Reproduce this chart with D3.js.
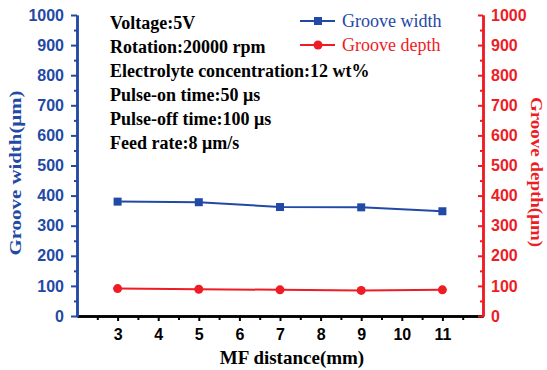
<head>
    <script src="https://d3js.org/d3.v7.min.js"></script>
    <style>
        body { margin: 0; background: #fff; }
        .tick text { font-family: "Liberation Sans", Arial, sans-serif; font-weight: bold; font-size: 16px; }
        .serif { font-family: "Liberation Serif", "Times New Roman", serif; }
    </style>
</head>
<body>
    <svg></svg>
    <script>
        const distance = [3, 5, 7, 9, 11]
        const grooveWidth = [380, 378, 362, 361, 348]
        const grooveDepth = [91, 89, 87, 85, 87]
        const xTicks = [3, 4, 5, 6, 7, 8, 9, 10, 11]
        const xMinor = [2.5, 3.5, 4.5, 5.5, 6.5, 7.5, 8.5, 9.5, 10.5, 11.5]
        const yTicks = [0, 100, 200, 300, 400, 500, 600, 700, 800, 900, 1000]
        const yMinor = [50, 150, 250, 350, 450, 550, 650, 750, 850, 950]
        const notes = ['Voltage:5V', 'Rotation:20000 rpm', 'Electrolyte concentration:12 wt%',
                       'Pulse-on time:50 \u03bcs', 'Pulse-off time:100 \u03bcs', 'Feed rate:8 \u03bcm/s']

        const width = 547, height = 370
        const blue = '#2349a6', red = '#ee1c25'
        const fmt = d3.format('d')

        const svg = d3.select('svg').attr('width', width).attr('height', height)

        const x = d3.scaleLinear().domain([2, 12]).range([77, 483])
        const y = d3.scaleLinear().domain([0, 1000]).range([316, 15])

        function styleAxis(g, color) {
            g.select('.domain').attr('stroke', color).attr('stroke-width', 2.5)
            g.selectAll('.tick line').attr('stroke', color).attr('stroke-width', 2)
            g.selectAll('.tick text').attr('fill', color)
        }

        // bottom axis
        const gx = svg.append('g').attr('transform', 'translate(0,' + y(0) + ')')
            .call(d3.axisBottom(x).tickValues(xTicks).tickFormat(fmt).tickSize(5).tickSizeOuter(0).tickPadding(8))
        styleAxis(gx, '#000')
        const gxm = svg.append('g').attr('transform', 'translate(0,' + y(0) + ')')
            .call(d3.axisBottom(x).tickValues(xMinor).tickSize(4).tickSizeOuter(0).tickFormat(''))
        styleAxis(gxm, '#000')

        // left axis
        const gy = svg.append('g').attr('transform', 'translate(' + x(2) + ',0)')
            .call(d3.axisLeft(y).tickValues(yTicks).tickFormat(fmt).tickSize(6).tickSizeOuter(0).tickPadding(7))
        styleAxis(gy, blue)
        const gym = svg.append('g').attr('transform', 'translate(' + x(2) + ',0)')
            .call(d3.axisLeft(y).tickValues(yMinor).tickSize(3).tickSizeOuter(0).tickFormat(''))
        styleAxis(gym, blue)

        // right axis, ticks pointing inward
        const gr = svg.append('g').attr('transform', 'translate(' + x(12) + ',0)')
            .call(d3.axisRight(y).tickValues(yTicks).tickFormat(fmt).tickSize(-5).tickSizeOuter(0).tickPadding(8))
        styleAxis(gr, red)
        const grm = svg.append('g').attr('transform', 'translate(' + x(12) + ',0)')
            .call(d3.axisRight(y).tickValues(yMinor).tickSize(-3).tickSizeOuter(0).tickFormat(''))
        styleAxis(grm, red)

        // series
        const line = d3.line().x(d => x(d[0])).y(d => y(d[1]))
        const widthPts = distance.map((d, i) => [d, grooveWidth[i]])
        const depthPts = distance.map((d, i) => [d, grooveDepth[i]])

        svg.append('path').datum(widthPts).attr('d', line)
            .attr('fill', 'none').attr('stroke', blue).attr('stroke-width', 2)
        svg.selectAll('.sq').data(widthPts).enter().append('rect')
            .attr('x', d => x(d[0]) - 4).attr('y', d => y(d[1]) - 4)
            .attr('width', 8).attr('height', 8).attr('fill', blue)

        svg.append('path').datum(depthPts).attr('d', line)
            .attr('fill', 'none').attr('stroke', red).attr('stroke-width', 2)
        svg.selectAll('.dot').data(depthPts).enter().append('circle')
            .attr('cx', d => x(d[0])).attr('cy', d => y(d[1]))
            .attr('r', 4.5).attr('fill', red)

        // axis titles
        svg.append('text').attr('class', 'serif')
            .attr('transform', 'translate(21,173)rotate(-90)')
            .attr('text-anchor', 'middle').attr('font-size', 17).attr('font-weight', 'bold')
            .attr('fill', blue).attr('textLength', 165).attr('lengthAdjust', 'spacingAndGlyphs')
            .text('Groove width(\u03bcm)')
        svg.append('text').attr('class', 'serif')
            .attr('transform', 'translate(531,172)rotate(90)')
            .attr('text-anchor', 'middle').attr('font-size', 17).attr('font-weight', 'bold')
            .attr('fill', red).attr('textLength', 150).attr('lengthAdjust', 'spacingAndGlyphs')
            .text('Groove depth(\u03bcm)')
        svg.append('text').attr('class', 'serif')
            .attr('x', 292).attr('y', 364)
            .attr('text-anchor', 'middle').attr('font-size', 19).attr('font-weight', 'bold')
            .text('MF distance(mm)')

        // annotations
        svg.selectAll('.note').data(notes).enter().append('text').attr('class', 'serif')
            .attr('x', 110).attr('y', (d, i) => 29 + i * 24)
            .attr('font-size', 18).attr('font-weight', 'bold')
            .text(d => d)

        // legend
        const legend = [['Groove width', blue, 'sq'], ['Groove depth', red, 'dot']]
        const lg = svg.selectAll('.leg').data(legend).enter().append('g')
            .attr('transform', (d, i) => 'translate(300,' + (21 + i * 24) + ')')
        lg.append('line').attr('x1', 0).attr('x2', 35)
            .attr('stroke', d => d[1]).attr('stroke-width', 2)
        lg.filter(d => d[2] === 'sq').append('rect')
            .attr('x', 14).attr('y', -4).attr('width', 8).attr('height', 8).attr('fill', blue)
        lg.filter(d => d[2] === 'dot').append('circle')
            .attr('cx', 18).attr('r', 4.5).attr('fill', red)
        lg.append('text').attr('class', 'serif')
            .attr('x', 42).attr('y', 6).attr('font-size', 18)
            .attr('fill', d => d[1]).text(d => d[0])
    </script>
</body>
